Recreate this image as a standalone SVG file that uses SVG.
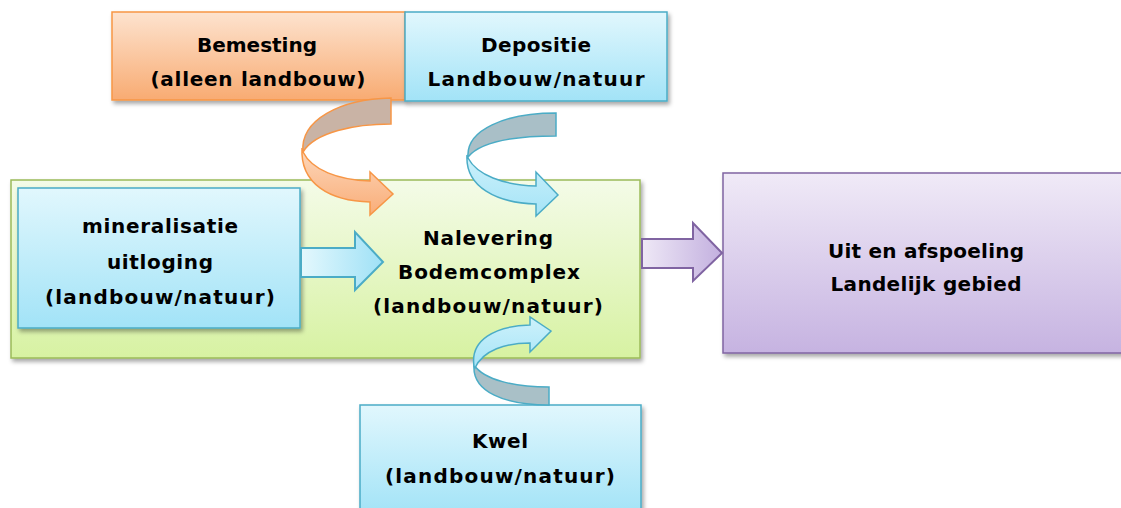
<svg xmlns="http://www.w3.org/2000/svg" width="1121" height="508" viewBox="0 0 1121 508">
<defs>
<linearGradient id="gOrange" x1="0" y1="0" x2="0" y2="1"><stop offset="0" stop-color="#fde3cf"/><stop offset="1" stop-color="#f8ab72"/></linearGradient>
<linearGradient id="gBlue" x1="0" y1="0" x2="0" y2="1"><stop offset="0" stop-color="#e1f7fd"/><stop offset="1" stop-color="#a2e3f7"/></linearGradient>
<linearGradient id="gGreen" x1="0" y1="0" x2="0" y2="1"><stop offset="0" stop-color="#f4fbe8"/><stop offset="1" stop-color="#d7f2a2"/></linearGradient>
<linearGradient id="gPurple" x1="0" y1="0" x2="0" y2="1"><stop offset="0" stop-color="#f0eaf7"/><stop offset="1" stop-color="#c6b3e1"/></linearGradient>
<linearGradient id="gBlueH" x1="0" y1="0" x2="1" y2="0"><stop offset="0" stop-color="#e4f8fd"/><stop offset="1" stop-color="#9fe1f6"/></linearGradient>
<linearGradient id="gPurpleH" x1="0" y1="0" x2="1" y2="0"><stop offset="0" stop-color="#eee8f6"/><stop offset="1" stop-color="#c3b0df"/></linearGradient>
<linearGradient id="gOrangeF" x1="0" y1="0" x2="0" y2="1"><stop offset="0" stop-color="#fdd8bc"/><stop offset="1" stop-color="#f9ad78"/></linearGradient>
<linearGradient id="gBlueF" x1="0" y1="0" x2="0" y2="1"><stop offset="0" stop-color="#cdf1fb"/><stop offset="1" stop-color="#a5e4f7"/></linearGradient>
<filter id="sh" x="-10%" y="-10%" width="130%" height="130%"><feDropShadow dx="2" dy="3" stdDeviation="2" flood-color="#000" flood-opacity="0.35"/></filter>
</defs>
<style>
.t{font-family:"DejaVu Sans","Verdana",sans-serif;font-weight:bold;font-size:20px;fill:#000;text-anchor:middle}
.bo{fill:url(#gOrange);stroke:#f79646;stroke-width:1.5}
.bb{fill:url(#gBlue);stroke:#4bacc6;stroke-width:1.5}
.bg{fill:url(#gGreen);stroke:#9bbb59;stroke-width:1.5}
.bp{fill:url(#gPurple);stroke:#8064a2;stroke-width:1.5}
</style>
<rect width="1121" height="508" fill="#fff"/>

<g id="nalevering">
<rect class="bg" x="11" y="180" width="629" height="178" filter="url(#sh)"/>
<text class="t" x="488" y="245" textLength="130" lengthAdjust="spacing">Nalevering</text>
<text class="t" x="489" y="279" textLength="182" lengthAdjust="spacing">Bodemcomplex</text>
<text class="t" x="488" y="313" textLength="230" lengthAdjust="spacing">(landbouw/natuur)</text>
</g>

<g id="bemesting">
<rect class="bo" x="112" y="12" width="293" height="88" filter="url(#sh)"/>
<text class="t" x="257" y="52" textLength="120" lengthAdjust="spacing">Bemesting</text>
<text class="t" x="258" y="86" textLength="215" lengthAdjust="spacing">(alleen landbouw)</text>
</g>

<g id="depositie">
<rect class="bb" x="405" y="12" width="262" height="89" filter="url(#sh)"/>
<text class="t" x="536" y="52" textLength="110" lengthAdjust="spacing">Depositie</text>
<text class="t" x="536" y="86" textLength="217" lengthAdjust="spacing">Landbouw/natuur</text>
</g>

<g id="mineralisatie">
<rect class="bb" x="18" y="188" width="282" height="140" filter="url(#sh)"/>
<text class="t" x="160" y="233" textLength="156" lengthAdjust="spacing">mineralisatie</text>
<text class="t" x="160" y="269" textLength="106" lengthAdjust="spacing">uitloging</text>
<text class="t" x="160" y="304" textLength="230" lengthAdjust="spacing">(landbouw/natuur)</text>
</g>

<g id="afspoeling">
<rect class="bp" x="723" y="173" width="402" height="180" filter="url(#sh)"/>
<text class="t" x="926" y="258" textLength="196" lengthAdjust="spacing">Uit en afspoeling</text>
<text class="t" x="926" y="291" textLength="191" lengthAdjust="spacing">Landelijk gebied</text>
</g>

<g id="kwel">
<rect class="bb" x="360" y="405" width="281" height="110" filter="url(#sh)"/>
<text class="t" x="500" y="448" textLength="56" lengthAdjust="spacing">Kwel</text>
<text class="t" x="500" y="483" textLength="230" lengthAdjust="spacing">(landbouw/natuur)</text>
</g>

<g id="connectors" stroke-linejoin="miter">
<path d="M301,248 L355,248 L355,232 L383,262 L355,290 L355,277 L301,277 Z" fill="url(#gBlueH)" stroke="#4bacc6" stroke-width="2"/>
<path d="M642,239 L693,239 L693,223 L722,253 L693,281 L693,268 L642,268 Z" fill="url(#gPurpleH)" stroke="#8064a2" stroke-width="2"/>
<path d="M391,98 L391,124 C355,124 315,132 303,152 C300,120 340,99 391,98 Z" fill="#c9b3a5" stroke="#f79646" stroke-width="1.5"/>
<path d="M302,148 C300,184 330,201 370,202 L370,215 L393,194 L370,172 L370,181 C338,180 312,170 303,152 Z" fill="url(#gOrangeF)" stroke="#f79646" stroke-width="1.5"/>
<path d="M556,113 L556,136 C520,136 482,140 468,157 C466,130 505,113 556,113 Z" fill="#a9bfc7" stroke="#4bacc6" stroke-width="1.5"/>
<path d="M467,155 C465,187 497,203 536,204 L536,216 L558,195 L536,172 L536,186 C503,185 477,175 468,158 Z" fill="url(#gBlueF)" stroke="#4bacc6" stroke-width="1.5"/>
<path d="M549,405 L549,387 C515,387 484,380 474,365 C472,392 505,405 549,405 Z" fill="#a9c0c7" stroke="#4bacc6" stroke-width="1.5"/>
<path d="M474,366 C470,340 495,326 530,325 L530,317 L551,331 L530,352 L530,343 C506,343 483,350 475,368 Z" fill="url(#gBlueF)" stroke="#4bacc6" stroke-width="1.5"/>
</g>
</svg>
